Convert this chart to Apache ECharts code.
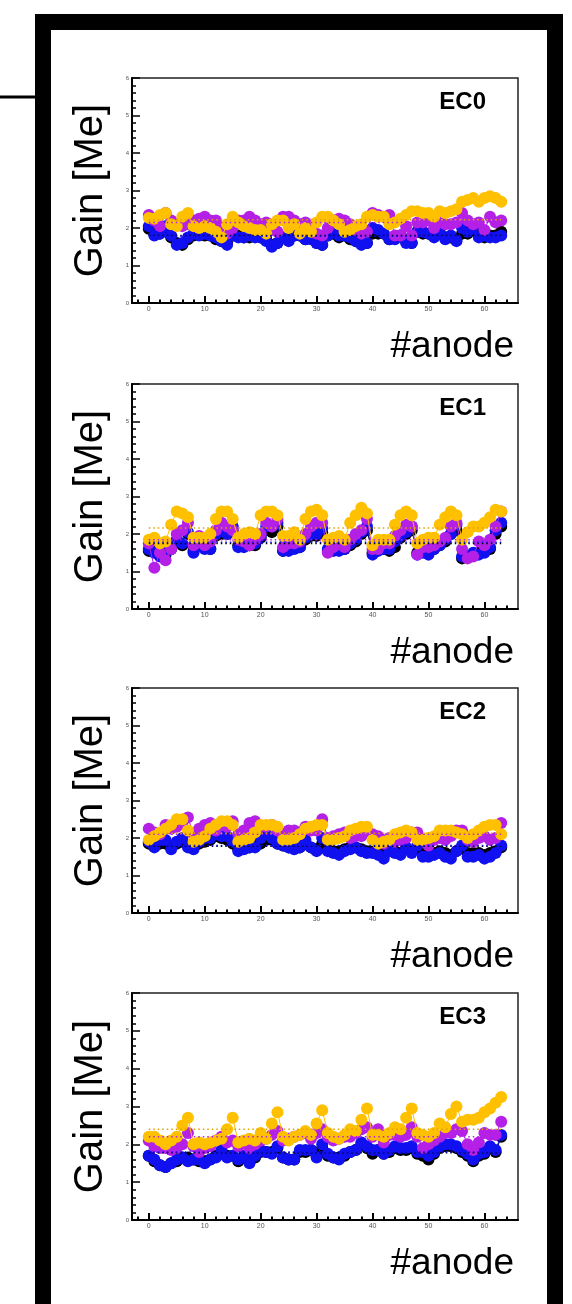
<!DOCTYPE html>
<html><head><meta charset="utf-8">
<script src="https://cdn.jsdelivr.net/npm/echarts@6/dist/echarts.min.js"></script>
<style>html,body{margin:0;padding:0;background:#fff}#c{width:572px;height:1304px}</style>
</head><body><div id="c"></div>
<script>
const anodes=[0,1,2,3,4,5,6,7,8,9,10,11,12,13,14,15,16,17,18,19,20,21,22,23,24,25,26,27,28,29,30,31,32,33,34,35,36,37,38,39,40,41,42,43,44,45,46,47,48,49,50,51,52,53,54,55,56,57,58,59,60,61,62,63];
const panelNames=['EC0','EC1','EC2','EC3'];
const xMajorTicks=[0,10,20,30,40,50,60];
const xMinorTicks=[-2,2,4,6,8,12,14,16,18,22,24,26,28,32,34,36,38,42,44,46,48,52,54,56,58,62,64];
const xLabel='#anode';
const yLabel='Gain [Me]';

// EC0
const ec0Black=[1.98,1.85,1.85,2.0,1.75,1.6,1.55,1.7,1.8,1.85,1.8,1.8,1.7,1.65,1.6,1.8,1.8,1.75,1.75,1.8,1.75,1.7,1.55,1.6,1.75,1.7,1.8,1.8,1.7,1.75,1.6,1.55,1.8,1.85,1.75,1.8,1.7,1.65,1.6,1.6,1.85,1.85,1.85,1.7,1.75,1.8,1.65,1.6,1.9,1.85,1.85,1.8,1.85,1.75,1.75,1.7,1.85,1.85,1.95,1.8,1.75,1.8,1.8,1.9];
const ec0Blue=[2.05,1.8,1.85,2.05,1.8,1.55,1.6,1.75,1.85,1.8,1.85,1.8,1.75,1.65,1.55,1.8,1.75,1.75,1.8,1.75,1.75,1.65,1.5,1.6,1.75,1.65,1.8,1.8,1.7,1.7,1.6,1.55,1.8,1.9,1.8,1.8,1.75,1.65,1.55,1.6,2.0,1.95,1.85,1.7,1.7,1.8,1.6,1.6,1.9,1.9,1.85,1.75,1.9,1.7,1.8,1.65,2.0,1.9,2.0,1.75,1.8,1.75,1.75,1.8];
const ec0Magenta=[2.35,2.2,2.05,2.4,2.2,2.1,2.05,2.1,2.2,2.25,2.3,2.2,2.2,2.0,1.85,2.0,2.2,2.2,2.3,2.2,2.1,2.15,1.95,1.9,2.3,2.3,2.2,2.1,2.15,2.0,1.85,1.8,2.0,2.2,2.25,2.2,2.1,1.95,1.85,1.9,2.4,2.35,2.3,2.35,1.8,1.8,2.05,1.8,2.15,2.15,2.2,2.0,2.15,2.1,2.1,2.15,2.4,2.2,2.1,2.15,1.95,2.3,2.15,2.2];
const ec0Orange=[2.27,2.25,2.35,2.4,2.1,2.05,2.3,2.4,2.05,2.0,2.05,2.0,1.9,1.75,2.1,2.3,2.15,2.05,2.0,1.95,1.95,1.85,2.1,2.2,2.2,2.0,2.1,1.85,2.0,1.9,2.15,2.3,2.3,2.2,2.1,1.9,1.95,2.05,2.1,2.3,2.35,2.3,2.3,2.1,2.15,2.25,2.35,2.45,2.45,2.4,2.4,2.3,2.45,2.4,2.45,2.5,2.7,2.75,2.8,2.7,2.8,2.85,2.8,2.7];
const ec0Means=[1.8,1.78,2.15,2.22];

// EC1
const ec1Black=[1.55,1.55,1.45,1.45,1.6,1.8,1.7,2.0,1.55,1.7,1.65,1.6,1.95,2.0,2.0,2.1,1.7,1.7,1.7,1.7,1.9,2.1,2.05,2.2,1.55,1.6,1.65,1.65,1.85,1.95,1.95,2.05,1.55,1.6,1.6,1.6,1.7,1.8,2.0,2.1,1.5,1.6,1.6,1.55,1.65,1.9,2.0,2.1,1.5,1.55,1.55,1.6,1.7,1.8,2.0,2.1,1.35,1.4,1.45,1.5,1.55,1.6,2.0,2.2];
const ec1Blue=[1.6,1.5,1.4,1.5,1.6,1.85,1.75,2.05,1.5,1.7,1.6,1.6,2.0,2.1,2.0,2.2,1.65,1.65,1.7,1.75,1.95,2.2,2.2,2.3,1.55,1.55,1.6,1.65,1.9,2.0,2.0,2.15,1.6,1.55,1.55,1.6,1.75,1.85,2.05,2.2,1.45,1.55,1.6,1.6,1.8,1.95,2.05,2.2,1.45,1.5,1.45,1.6,1.7,1.85,2.0,2.25,1.4,1.4,1.5,1.45,1.5,1.65,2.1,2.3];
const ec1Magenta=[1.75,1.1,1.5,1.3,1.6,2.0,2.1,2.3,1.7,1.95,1.7,1.8,2.1,2.3,2.2,2.1,1.85,1.8,1.7,1.85,2.0,2.3,2.2,2.4,1.65,1.75,1.75,1.8,2.0,2.2,2.3,2.3,1.5,1.65,1.75,1.65,1.85,2.0,2.1,2.4,1.6,1.6,1.75,1.75,1.95,2.1,2.25,2.2,1.45,1.65,1.65,1.7,1.8,1.9,2.2,2.3,1.6,1.35,1.4,1.8,1.7,1.85,2.2,2.6];
const ec1Orange=[1.85,1.9,1.75,1.8,2.25,2.6,2.55,2.45,1.9,1.9,1.9,2.0,2.4,2.6,2.6,2.4,1.9,2.0,2.05,2.0,2.5,2.6,2.6,2.5,1.95,1.95,2.05,1.85,2.4,2.6,2.65,2.5,1.85,1.9,1.95,1.85,2.3,2.5,2.7,2.55,1.7,1.85,1.85,1.85,2.25,2.5,2.6,2.5,1.75,1.85,1.9,1.9,2.25,2.45,2.6,2.5,1.85,2.05,2.2,2.2,2.3,2.45,2.65,2.6];
const ec1Means=[1.75,1.78,1.85,2.16];

// EC2
const ec2Black=[1.85,1.8,1.85,1.85,1.75,1.85,1.9,1.8,1.75,1.85,1.9,1.95,2.05,2.0,1.95,1.85,1.7,1.75,1.75,1.8,1.85,1.95,1.95,1.85,1.8,1.75,1.75,1.75,1.85,1.75,1.7,1.85,1.7,1.65,1.65,1.7,1.75,1.75,1.7,1.65,1.65,1.6,1.55,1.65,1.65,1.6,1.7,1.65,1.75,1.6,1.6,1.6,1.65,1.6,1.55,1.65,1.75,1.6,1.6,1.6,1.55,1.6,1.65,1.75];
const ec2Blue=[1.9,1.75,1.95,1.95,1.7,1.9,2.0,1.75,1.7,1.9,2.0,2.0,2.1,2.05,2.05,1.9,1.65,1.7,1.75,1.75,2.0,2.1,2.0,1.85,1.8,1.75,1.7,1.75,1.95,1.75,1.65,2.0,1.65,1.6,1.55,1.65,1.7,1.75,1.65,1.6,1.6,1.55,1.45,1.65,1.6,1.55,1.75,1.6,1.8,1.5,1.5,1.55,1.6,1.5,1.45,1.65,1.8,1.5,1.5,1.55,1.45,1.5,1.6,1.8];
const ec2Magenta=[2.25,2.15,2.1,2.35,2.25,2.3,2.4,2.55,2.1,2.25,2.35,2.4,2.2,2.35,2.3,2.45,2.1,2.2,2.4,2.45,2.3,2.3,2.35,2.2,2.1,2.2,2.2,2.15,2.3,2.2,2.2,2.5,2.0,2.05,2.1,2.15,2.0,2.05,2.05,2.2,2.1,2.05,1.85,2.0,1.9,1.95,2.0,2.15,2.15,1.95,1.8,1.95,2.0,1.95,2.05,2.2,2.2,1.95,1.9,2.0,2.05,1.95,2.0,2.4];
const ec2Orange=[1.95,2.05,2.15,2.25,2.35,2.5,2.5,2.2,1.9,1.95,2.05,2.25,2.35,2.45,2.45,2.35,1.9,1.95,2.0,2.15,2.35,2.35,2.35,2.3,1.95,1.95,2.0,2.1,2.25,2.3,2.35,2.35,1.95,1.95,2.0,2.05,2.2,2.25,2.3,2.3,1.95,1.85,1.9,1.95,2.1,2.15,2.2,2.15,1.95,1.95,2.0,2.05,2.2,2.2,2.2,2.15,2.1,2.0,2.1,2.2,2.3,2.35,2.35,2.1];
const ec2Means=[1.78,1.8,2.1,2.13];

// EC3
const ec3Black=[1.7,1.55,1.45,1.4,1.5,1.55,1.65,1.65,1.6,1.55,1.55,1.6,1.7,1.75,1.7,1.7,1.55,1.65,1.55,1.65,1.8,1.8,1.8,1.9,1.65,1.6,1.6,1.8,1.8,1.85,1.7,1.9,1.7,1.65,1.65,1.7,1.8,1.85,2.0,1.9,1.75,1.85,1.75,1.8,1.9,1.85,1.85,1.9,1.75,1.7,1.6,1.75,1.9,1.95,1.95,1.9,1.8,1.7,1.55,1.7,1.75,1.9,1.8,2.2];
const ec3Blue=[1.7,1.6,1.45,1.4,1.5,1.6,1.65,1.55,1.6,1.6,1.5,1.6,1.65,1.85,1.65,1.7,1.6,1.7,1.5,1.7,1.85,1.8,1.75,1.95,1.65,1.6,1.6,1.85,1.85,1.85,1.65,2.0,1.75,1.65,1.6,1.75,1.8,1.85,2.05,1.95,1.85,1.85,1.75,1.85,1.95,1.9,1.9,1.95,1.8,1.8,1.7,1.8,1.95,2.0,2.0,1.95,1.85,1.75,1.6,1.75,1.8,1.95,1.85,2.25];
const ec3Magenta=[2.1,1.95,1.9,1.9,1.85,1.9,2.0,2.3,1.95,1.8,1.9,1.95,2.1,2.2,2.05,2.1,1.95,2.05,1.9,2.0,2.1,2.15,2.25,2.35,2.1,2.15,2.2,2.25,2.3,2.15,2.3,2.4,2.2,2.1,2.15,2.2,2.2,2.3,2.4,2.45,2.2,2.4,2.05,2.25,2.25,2.2,2.25,2.45,2.2,1.9,2.0,2.1,2.2,2.3,2.3,2.4,2.35,2.0,1.85,2.05,2.3,2.25,2.25,2.6];
const ec3Orange=[2.2,2.2,2.1,2.0,2.1,2.2,2.5,2.7,2.0,2.05,2.0,2.05,2.1,2.15,2.4,2.7,2.05,2.1,2.15,2.1,2.3,2.15,2.55,2.85,2.2,2.1,2.2,2.25,2.35,2.25,2.55,2.9,2.3,2.2,2.15,2.25,2.4,2.35,2.65,2.95,2.25,2.25,2.2,2.3,2.45,2.4,2.7,2.95,2.3,2.25,2.2,2.3,2.55,2.45,2.8,3.0,2.6,2.65,2.65,2.7,2.85,2.95,3.1,3.25];
const ec3Means=[1.78,1.8,2.2,2.4];

const panelData=[
  [ec0Black,ec0Blue,ec0Magenta,ec0Orange,ec0Means],
  [ec1Black,ec1Blue,ec1Magenta,ec1Orange,ec1Means],
  [ec2Black,ec2Blue,ec2Magenta,ec2Orange,ec2Means],
  [ec3Black,ec3Blue,ec3Magenta,ec3Orange,ec3Means]
];

const colors=['#000000','#1010f0','#b420e6','#ffc000'];
const FONT="'Liberation Sans', Arial, Helvetica, sans-serif";
const tops=[78,384,688,993];
const heights=[225,225,225,227];
const gridLeft=132, gridRight=518;

const grids=[],xAxes=[],yAxes=[],series=[],graphics=[];
graphics.push({type:'rect',shape:{x:43,y:22,width:512,height:1290},style:{fill:'none',stroke:'#000',lineWidth:16},silent:true});
graphics.push({type:'line',shape:{x1:0,y1:97,x2:36,y2:97},style:{stroke:'#000',lineWidth:3},silent:true});

for(let p=0;p<4;p++){
  const T=tops[p],H=heights[p];
  grids.push({left:gridLeft,top:T,width:gridRight-gridLeft,height:H,show:true,borderColor:'#222',borderWidth:1.5,backgroundColor:'transparent',containLabel:false});
  xAxes.push({type:'value',gridIndex:p,min:-3,max:66,
    axisLine:{show:true,onZero:false,lineStyle:{color:'#000',width:2}},
    axisTick:{show:true,inside:true,length:7,customValues:xMajorTicks,lineStyle:{color:'#000',width:2}},
    axisLabel:{show:true,customValues:xMajorTicks,fontSize:7,color:'#555',margin:3,fontFamily:FONT},
    splitLine:{show:false}});
  xAxes.push({type:'value',gridIndex:p,min:-3,max:66,position:'bottom',
    axisLine:{show:false,onZero:false},
    axisTick:{show:true,inside:true,length:3.5,customValues:xMinorTicks,lineStyle:{color:'#000',width:2}},
    axisLabel:{show:false},splitLine:{show:false}});
  yAxes.push({type:'value',gridIndex:p,min:0,max:6,interval:1,
    axisLine:{show:true,onZero:false,lineStyle:{color:'#000',width:2}},
    axisTick:{show:true,inside:true,length:8,lineStyle:{color:'#000',width:1.5}},
    minorTick:{show:true,splitNumber:5,length:4,lineStyle:{color:'#000',width:1.5}},
    axisLabel:{fontSize:6,color:'#555',margin:3,fontFamily:FONT},
    splitLine:{show:false},minorSplitLine:{show:false}});
  const d=panelData[p];
  for(let s=0;s<4;s++){
    series.push({type:'line',xAxisIndex:2*p,yAxisIndex:p,
      data:anodes.map((a,i)=>[a,d[s][i]]),
      symbol:'circle',symbolSize:12,showSymbol:true,
      itemStyle:{color:colors[s]},lineStyle:{color:colors[s],width:1},
      z:2+s,silent:true,animation:false});
  }
  for(let s=0;s<4;s++){
    const m=d[4][s];
    series.push({type:'line',xAxisIndex:2*p,yAxisIndex:p,
      data:[[anodes[0],m],[anodes[anodes.length-1],m]],
      symbol:'none',lineStyle:{color:colors[s]==='#ffc000'?'#e0a000':colors[s],width:1.5,type:[1.5,3]},
      z:10,silent:true,animation:false});
  }
  graphics.push({type:'text',x:91,y:T+H/2,rotation:Math.PI/2,
    style:{text:yLabel,font:'40px '+FONT,fill:'#000',textAlign:'center',textVerticalAlign:'middle'},silent:true});
  graphics.push({type:'text',x:514,y:T+H+44,
    style:{text:xLabel,font:'37px '+FONT,fill:'#000',textAlign:'right',textVerticalAlign:'middle'},silent:true});
  graphics.push({type:'text',x:486,y:T+12,
    style:{text:panelNames[p],font:'bold 24px '+FONT,fill:'#000',textAlign:'right',textVerticalAlign:'top'},silent:true});
}

const chart=echarts.init(document.getElementById('c'),null,{renderer:'canvas'});
chart.setOption({animation:false,backgroundColor:'#fff',grid:grids,xAxis:xAxes,yAxis:yAxes,series:series,graphic:graphics});
</script></body></html>
